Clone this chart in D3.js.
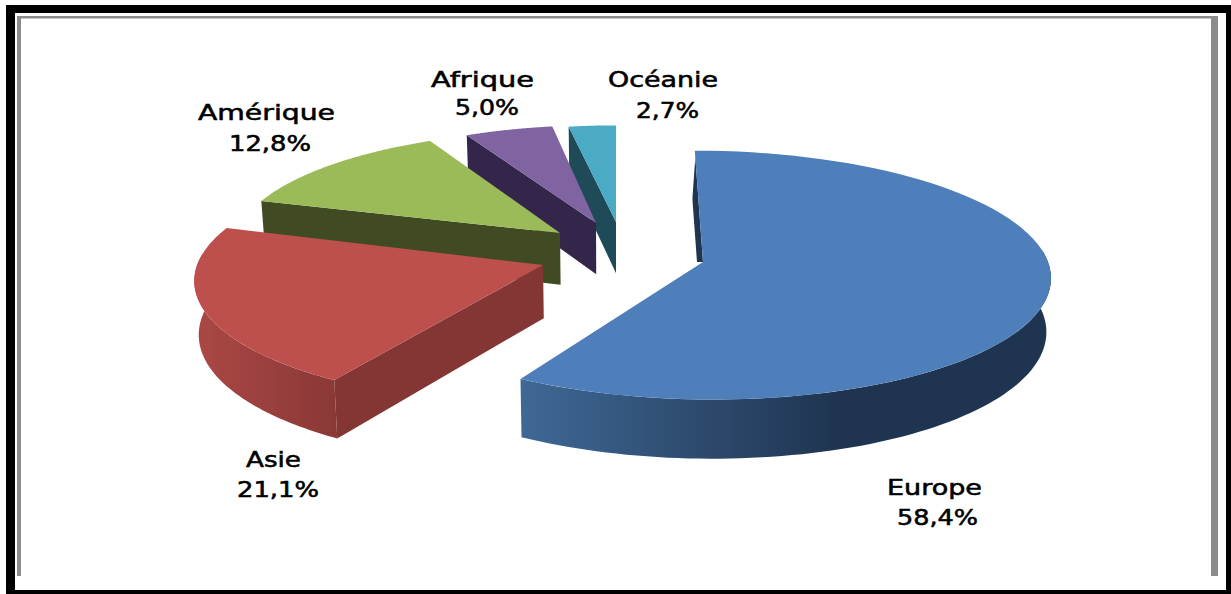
<!DOCTYPE html>
<html><head><meta charset="utf-8">
<script src="https://cdn.jsdelivr.net/npm/d3@7"></script>
<style>html,body{margin:0;padding:0;background:#fff;overflow:hidden}svg{display:block}</style>
</head><body><svg id="c" width="1231" height="594"></svg>
<script>
// ---- data ----
const categories = ["Europe","Asie","Amérique","Afrique","Océanie"];
const shares = [58.4,21.1,12.8,5.0,2.7];
const shareLabels = ["58,4%","21,1%","12,8%","5,0%","2,7%"];
// ---- styles ----
const topColors  = ["#4e7fbb","#bd504d","#9bbb59","#8064a2","#4babc5"];
const faceColors = ["#1f3450","#843634","#404a23","#33264a","#1f4a57"];
const wallStops  = [["#3f6895","#1f3450"],["#ab4845","#8a3836"],null,null,null];
// apex on screen, radius factor and small angular shift (degrees) of each exploded slice
const apexes = [[703,262],[543,265],[560,233],[596,223],[616,222]];
const radii  = [1,1,0.96,0.93,0.92];
const shifts = [0,1.8,0.8,0.5,0];
// label placement: [cx, baseline, width] for name and for value
const nameBoxes  = [[934.5,495,95],[273.5,467,55],[266.5,120,137],[482.5,87,103],[663,87,110]];
const valueBoxes = [[937.5,525,81],[278,497,82],[270,151,82],[487,115,64],[667.5,118,63]];

// ---- projection: ground plane seen in perspective, vanishing point (vx, vy) ----
const vx=617, vy=-910, H=1172, A=345, q=0.105, depth=53, shrink=0.0002;
const sOf = yn => 1/(1-q*yn);
const ynOfS = s => (1-1/s)/q;
function slicePoint(i){
  const [ax,ay]=apexes[i];
  const s0=(ay-vy)/H, X0=(ax-vx)/s0, Y0=ynOfS(s0), R=radii[i];
  return (theta,r=1,dz=0)=>{
    const X=X0+A*R*r*Math.sin(theta), Y=Y0-R*r*Math.cos(theta), s=sOf(Y);
    return [vx+X*s*(1-shrink*dz), vy+(H+dz)*s];
  };
}

const svg=d3.select("#c");
const defs=svg.append("defs");
const line=d3.line();

// frame
svg.append("rect").attr("width",1231).attr("height",594).attr("fill","#fff");
const frame=svg.append("g");
[[6,5,1225,8],[6,5,9,589],[1226,5,5,589],[6,590,1225,4]].forEach(r=>frame.append("rect")
  .attr("x",r[0]).attr("y",r[1]).attr("width",r[2]).attr("height",r[3]).attr("fill","#000"));
[[17,16,1201,2.5],[17,16,4,560],[1211,16,7,560]].forEach(r=>frame.append("rect")
  .attr("x",r[0]).attr("y",r[1]).attr("width",r[2]).attr("height",r[3]).attr("fill","#8c8c8c"));

// pie angles
const arcs=d3.pie().sort(null)(shares);
const g=svg.append("g");

// painter's order: back slices first
d3.range(categories.length-1,-1,-1).forEach(i=>{
  const sh=shifts[i]*Math.PI/180;
  const a0=arcs[i].startAngle+sh, a1=arcs[i].endAngle+sh, P=slicePoint(i);
  const rim=d3.range(0,1.0001,1/80).map(t=>P(a0+(a1-a0)*t));

  // outer wall: only the part that faces the viewer
  if(wallStops[i]){
    const lo=Math.max(a0,Math.PI*0.47), hi=Math.min(a1,Math.PI*1.53);
    const ws=d3.range(0,1.0001,1/80).map(t=>lo+(hi-lo)*t);
    const pts=ws.map(t=>P(t)).concat(ws.slice().reverse().map(t=>P(t,1,depth)));
    const ext=d3.extent(pts,p=>p[0]);
    const id="wall"+i;
    const lg=defs.append("linearGradient").attr("id",id).attr("gradientUnits","userSpaceOnUse")
      .attr("x1",ext[0]).attr("x2",i===0?ext[0]+(ext[1]-ext[0])*0.6:ext[1]).attr("y1",0).attr("y2",0);
    lg.append("stop").attr("offset",0).attr("stop-color",wallStops[i][0]);
    lg.append("stop").attr("offset",1).attr("stop-color",wallStops[i][1]);
    g.append("path").attr("d",line(pts)+"Z").attr("fill",`url(#${id})`);
  }
  // radial face along the start edge
  if(i>0){
    g.append("path").attr("d",line([P(a0,0),P(a0,1),P(a0,1,depth),P(a0,0,depth)])+"Z").attr("fill",faceColors[i]);
  }
  // Europe: thin inner wall seen beside its start edge
  if(i===0){
    const off=f=>{const p=P(a0,f);return [p[0]-(f>0.54?Math.max(0,6*(0.93-f)/0.39):6),p[1]];};
    const edge=d3.range(0,1.001,0.05);
    const pts=edge.map(f=>P(a0,f)).concat(edge.slice().reverse().map(off));
    g.append("path").attr("d",line(pts)+"Z").attr("fill",faceColors[0]);
  }
  // top surface
  g.append("path").attr("d",line([P(a0,0),...rim])+"Z").attr("fill",topColors[i]);
});

// labels
const labels=svg.append("g").attr("font-family","'DejaVu Sans',sans-serif").attr("fill","#000")
  .attr("stroke","#000").attr("stroke-width",0.55).attr("text-anchor","middle");
function put(text,b,size){
  labels.append("text").attr("x",b[0]).attr("y",b[1]).attr("font-size",size)
    .attr("textLength",b[2]).attr("lengthAdjust","spacingAndGlyphs").text(text);
}
categories.forEach((c,i)=>{
  put(c,nameBoxes[i],21);
  put(shareLabels[i],valueBoxes[i],21);
});
</script></body></html>
